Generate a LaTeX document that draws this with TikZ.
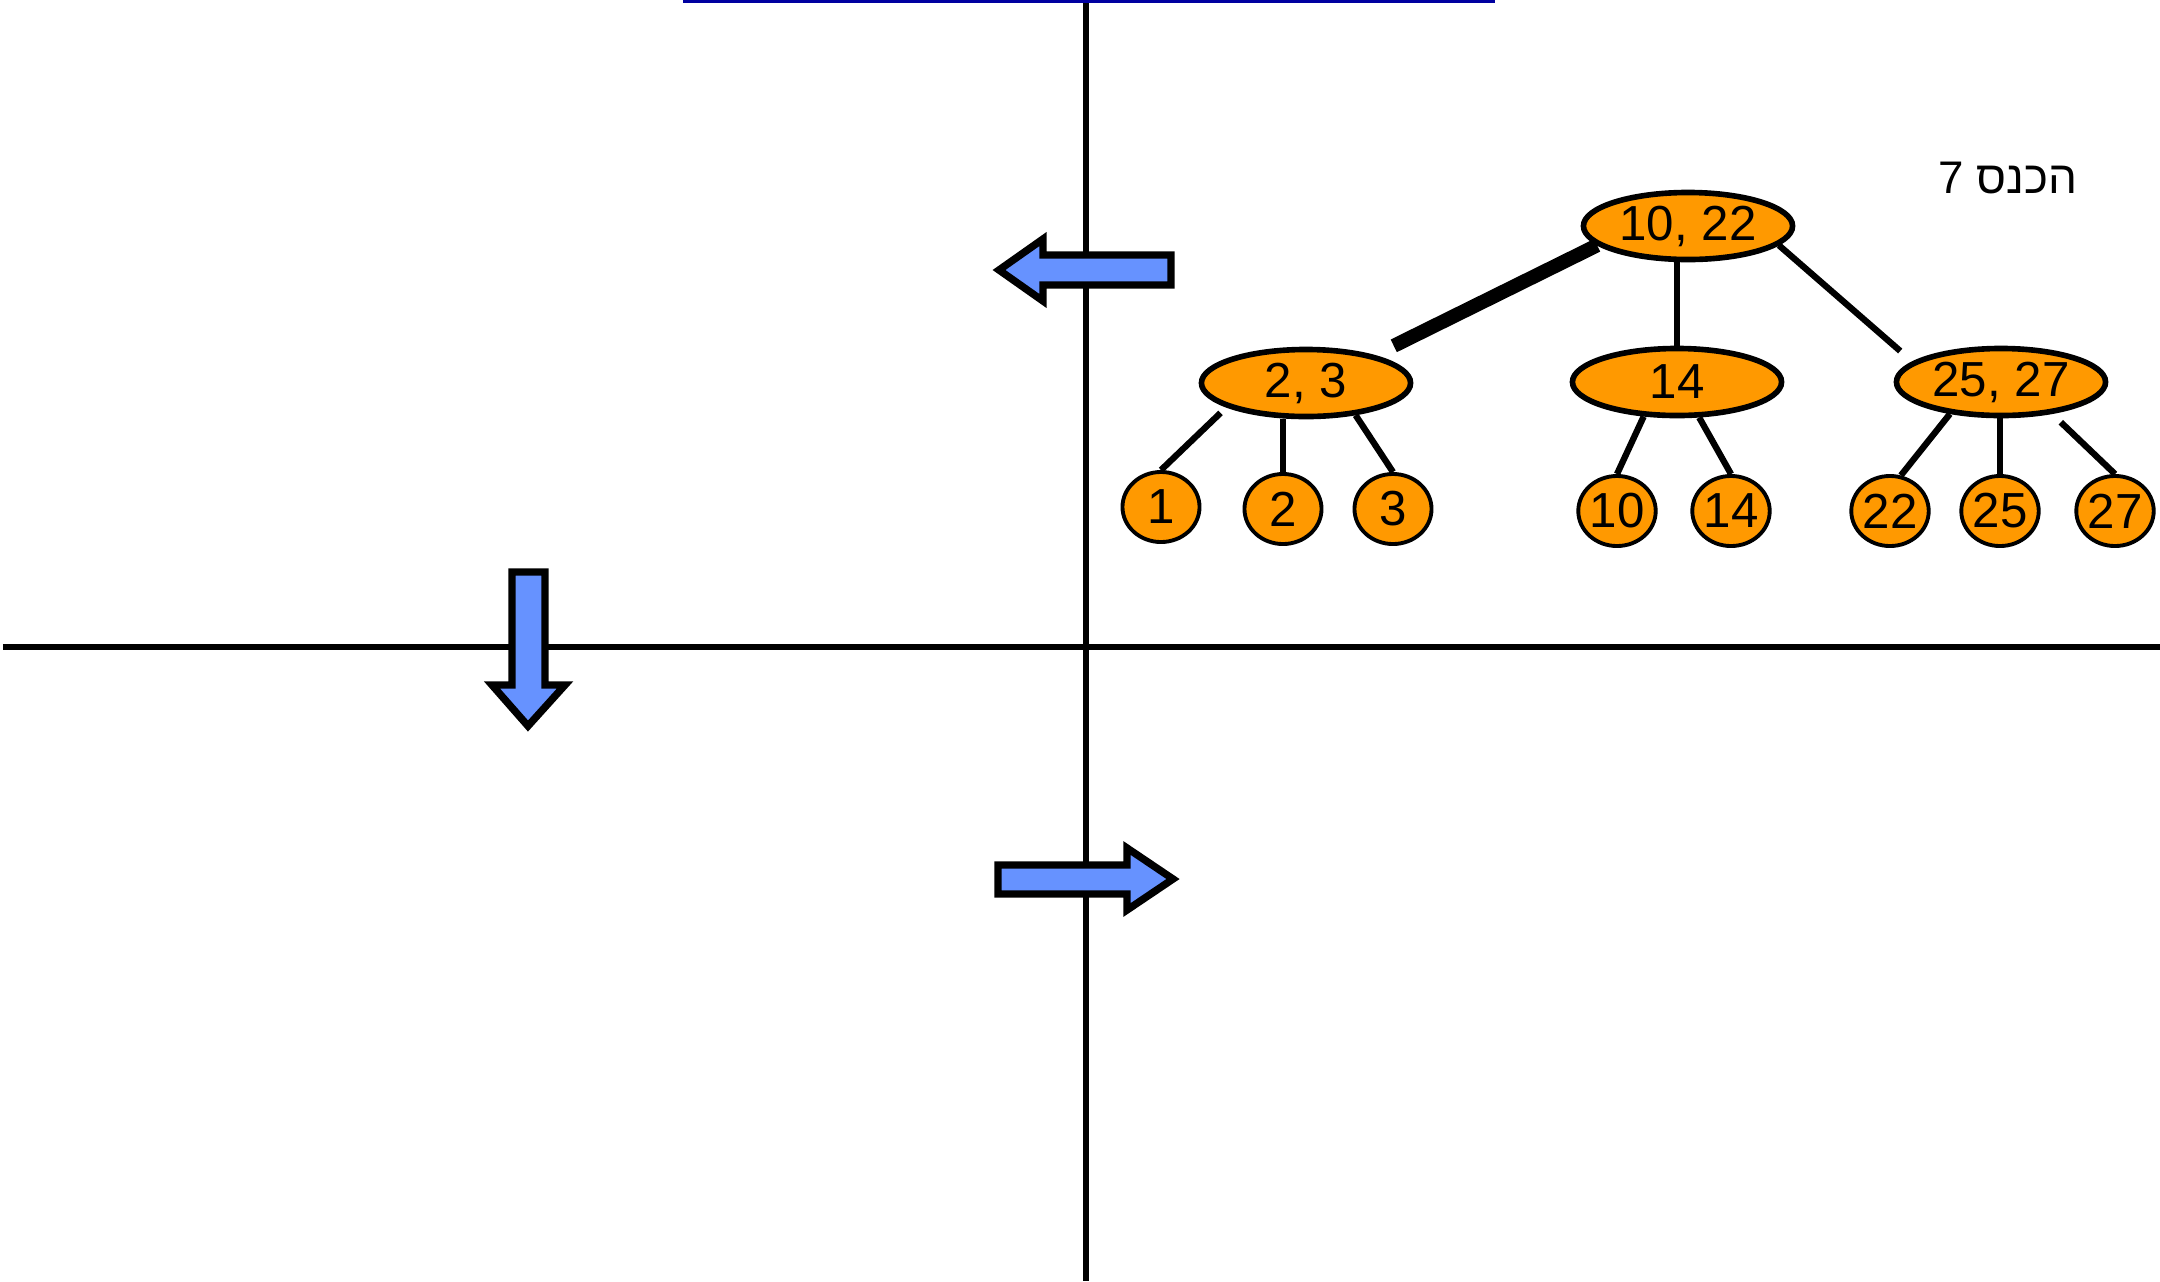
\documentclass[tikz,border=0pt]{standalone}
\usepackage{fontspec}
\setmainfont{Liberation Sans}
\newfontfamily\hebfont[Script=Hebrew]{Liberation Sans}
\TeXXeTstate=1
\usetikzlibrary{positioning,shapes.geometric}
\definecolor{keyorange}{RGB}{255,153,0}
\definecolor{arrowblue}{RGB}{102,146,255}
\definecolor{lineblue}{RGB}{0,0,160}
\tikzset{
    node distance=1cm, % not used much, nodes sit at pixel coordinates
    }

\begin{document}
\begin{tikzpicture}[x=0.01cm, y=-0.01cm,
innernode/.style={ellipse, draw=black, line width=1.6pt, fill=keyorange, minimum width=2.09cm, minimum height=0.67cm, inner sep=0pt, font=\fontsize{14}{16}\selectfont},
leafnode/.style={ellipse, draw=black, line width=1.1pt, fill=keyorange, minimum width=0.77cm, minimum height=0.70cm, inner sep=0pt, font=\fontsize{14}{16}\selectfont},
link/.style={line width=1.8pt},
heavylink/.style={line width=4pt},
axisline/.style={line width=1.8pt},
blockarrow/.style={draw=black, line width=2.1pt, fill=arrowblue, line join=miter},
]
\useasboundingbox (0,0) rectangle (2160,1281);

% axes
\draw[lineblue, line width=0.85pt] (683,1) -- (1495,1);
\draw[axisline] (1086,3) -- (1086,1281);
\draw[axisline] (3,647) -- (2160,647);

% blue arrows
\draw[blockarrow] (999,270) -- (1043,239) -- (1043,255) -- (1171,255) -- (1171,285) -- (1043,285) -- (1043,301) -- cycle;
\draw[blockarrow] (1173,879) -- (1127,848) -- (1127,865) -- (998,865) -- (998,894) -- (1127,894) -- (1127,910) -- cycle;
\draw[blockarrow] (528,726) -- (492,685) -- (512,685) -- (512,572) -- (545,572) -- (545,685) -- (565,685) -- cycle;

\node (insert) at (2008,178) {\fontsize{13}{15}\selectfont\hebfont\beginR הכנס 7\endR};

% tree
\node[innernode] (root) at (1688,226) {10, 22};
\node[innernode] (n23) at (1306,383) {2, 3};
\node[innernode] (n14) at (1677,382) {14};
\node[innernode] (n2527) at (2001,382) {25, 27};

\node[leafnode] (leaf1) at (1161,507) {1};
\node[leafnode] (leaf2) at (1283,509) {2};
\node[leafnode] (leaf3) at (1393,509) {3};
\node[leafnode] (leaf10) at (1617,511) {10};
\node[leafnode] (leaf14) at (1731,511) {14};
\node[leafnode] (leaf22) at (1890,511) {22};
\node[leafnode] (leaf25) at (2000,511) {25};
\node[leafnode] (leaf27) at (2115,511) {27};

\draw[heavylink, shorten >=0.21cm] (root.192) -- (n23.22);
\draw[link] (n14.north) -- (n14.north |- root.south);
\draw[link, shorten >=0.16cm] (root.348) -- (n2527.167);

\draw[link, shorten <=0.08cm] (n23.197) -- (leaf1.north);
\draw[link] (leaf2.north) -- (leaf2.north |- n23.south);
\draw[link] (n23.327) -- (leaf3.north);
\draw[link] (n14.226) -- (leaf10.north);
\draw[link] (n14.302) -- (leaf14.north);
\draw[link] (n2527.212) -- (leaf22.73);
\draw[link] (leaf25.north) -- (leaf25.north |- n2527.south);
\draw[link, shorten <=0.12cm] (n2527.328) -- (leaf27.north);
\end{tikzpicture}
\end{document}
